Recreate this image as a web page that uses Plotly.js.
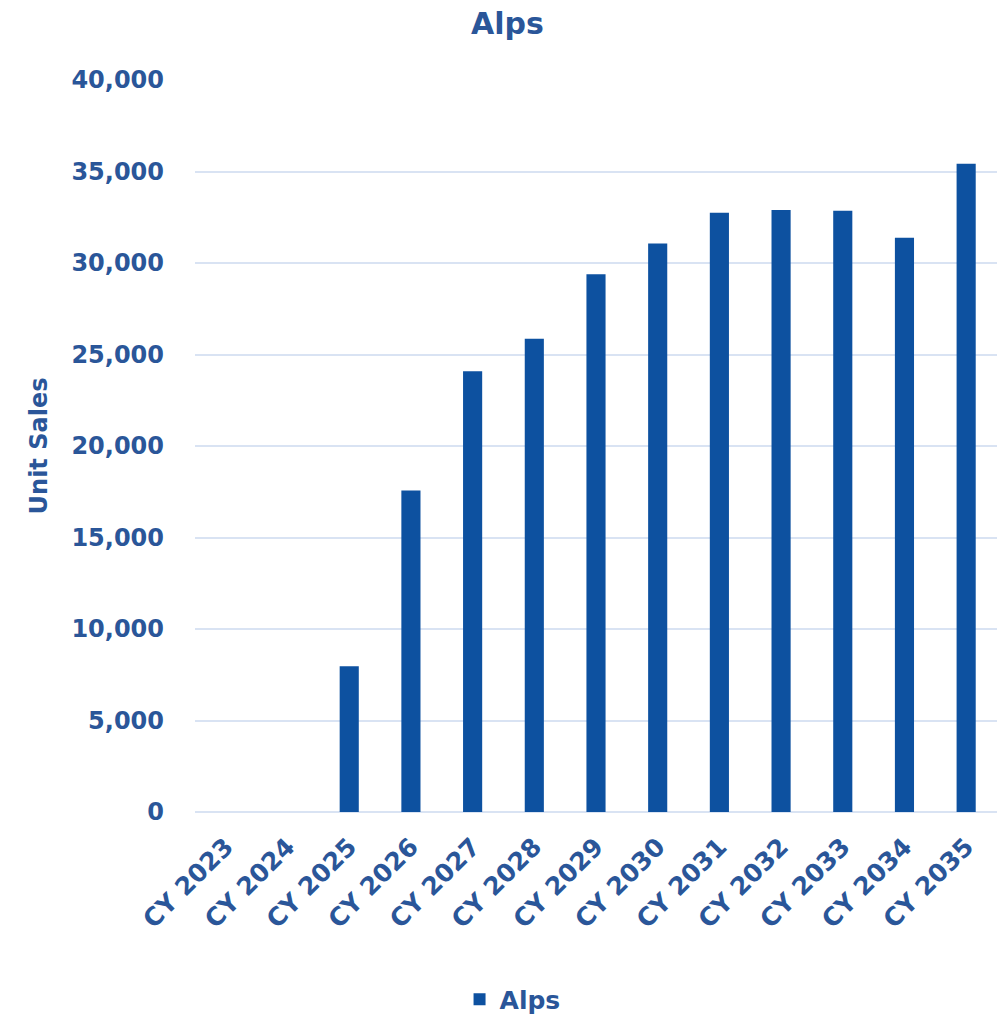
<!DOCTYPE html>
<html>
<head>
<meta charset="utf-8">
<script src="https://cdn.plot.ly/plotly-3.0.1.min.js"></script>
<style>html,body{margin:0;padding:0;background:#fff;}#chart{width:1005px;height:1020px;}</style>
</head>
<body>
<div id="chart"></div>
<script>
const categories = ["CY 2023","CY 2024","CY 2025","CY 2026","CY 2027","CY 2028","CY 2029","CY 2030","CY 2031","CY 2032","CY 2033","CY 2034","CY 2035"];
const alpsValues = [0, 0, 7960, 17570, 24090, 25860, 29380, 31070, 32750, 32890, 32860, 31380, 35430];
const yTickVals = [0,5000,10000,15000,20000,25000,30000,35000,40000];
const yTickText = ["0","5,000","10,000","15,000","20,000","25,000","30,000","35,000","40,000"];

const textColor = "#2A5699";
const fontFam = "'DejaVu Sans', sans-serif";

const trace = {
  type: "bar",
  x: categories,
  y: alpsValues,
  name: "<b>Alps</b>",
  marker: {color: "#0D51A0", line: {width: 0}},
  hoverinfo: "x+y"
};

const layout = {
  width: 1005, height: 1020,
  paper_bgcolor: "#fff", plot_bgcolor: "#fff",
  margin: {l: 195, r: 8, t: 80, b: 208},
  bargap: 0.69,
  font: {family: fontFam, color: textColor},
  title: {text: "<b>Alps</b>", x: 0.505, xanchor: "center", y: 0.977, yanchor: "middle", font: {size: 30, color: textColor, family: fontFam}},
  xaxis: {
    type: "category",
    automargin: false,
    tickangle: -45,
    tickvals: categories,
    ticktext: categories.map(c => "<b>" + c + "</b>"),
    tickfont: {size: 25, color: textColor, family: fontFam},
    ticklabelstandoff: 14,
    showgrid: false, zeroline: false, showline: false,
    ticks: "", ticklen: 0
  },
  yaxis: {
    automargin: false,
    range: [0, 40000],
    tickvals: yTickVals,
    ticktext: yTickText.map(t => "<b>" + t + "</b>"),
    tickfont: {size: 24, color: textColor, family: fontFam},
    ticklabelstandoff: 30,
    gridcolor: "#D9E3F3", gridwidth: 2,
    zeroline: true, zerolinecolor: "#D9E3F3", zerolinewidth: 2,
    showline: false,
    title: {text: "<b>Unit Sales</b>", font: {size: 24, color: textColor, family: fontFam}, standoff: 16}
  },
  showlegend: true,
  legend: {
    orientation: "h",
    xref: "container", x: 0.51, xanchor: "center",
    yref: "container", y: 0.02, yanchor: "middle",
    font: {size: 25, color: textColor, family: fontFam}
  }
};

Plotly.newPlot("chart", [trace], layout, {displayModeBar: false, staticPlot: true});
</script>
</body>
</html>
